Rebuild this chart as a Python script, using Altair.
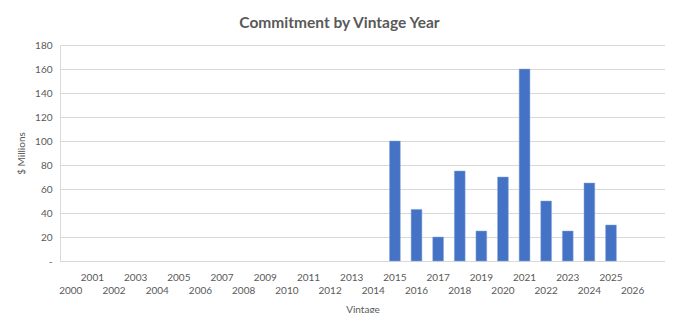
import altair as alt
import pandas as pd

categories = [str(y) for y in range(2000, 2028)]
bar_years = ["2015", "2016", "2017", "2018", "2019", "2020", "2021", "2022", "2023", "2024", "2025"]
bar_values = [100, 43, 20, 75, 25, 70, 160, 50, 25, 65, 30]
y_ticks = [0, 20, 40, 60, 80, 100, 120, 140, 160, 180]

df = pd.DataFrame({"Vintage": bar_years, "Commitment": bar_values})

TEXT = "#595959"
GRID = "#D9D9D9"
FONT = "Lato"

bars = alt.Chart(df).mark_bar(color="#4472C4", stroke="#8FAADC", strokeWidth=0.5).encode(
    x=alt.X(
        "Vintage:N",
        scale=alt.Scale(domain=categories, paddingInner=0.5, paddingOuter=0.25),
        axis=alt.Axis(
            title="Vintage",
            labelAngle=0,
            labelExpr="datum.value == '2027' ? '' : (toNumber(datum.value) % 2 == 1 ? datum.value : ['', datum.value])",
            labelBaseline="top",
            labelPadding=11,
            labelLineHeight=13,
            ticks=False,
            domainColor=GRID,
            titlePadding=9,
        ),
    ),
    y=alt.Y(
        "Commitment:Q",
        scale=alt.Scale(domain=[0, 180], nice=False),
        axis=alt.Axis(
            title="$ Millions",
            values=y_ticks,
            labelExpr="datum.value == 0 ? '-' : datum.label",
            ticks=False,
            labelPadding=8,
            domain=True,
            domainColor=GRID,
            gridColor=GRID,
            titleX=-39,
            titleY=108,
            titleAngle=-90,
            titleAlign="center",
            titleBaseline="middle",
        ),
    ),
)

chart = bars.properties(
    width=605,
    height=216,
    title=alt.TitleParams(
        "Commitment by Vintage Year",
        font=FONT,
        fontSize=15.5,
        fontWeight="bold",
        color=TEXT,
        baseline="alphabetic",
        offset=17,
        dy=20,
        dx=-23,
    ),
    autosize=alt.AutoSizeParams(type="none"),
    padding={"left": 52, "top": 37, "right": 0, "bottom": 52},
).configure_view(stroke=None).configure_axis(
    labelFont=FONT,
    labelFontSize=10,
    labelColor=TEXT,
    titleFont=FONT,
    titleFontSize=10,
    titleFontWeight="normal",
    titleColor=TEXT,
)

chart.save("out.html", embed_options={"renderer": "svg", "actions": False})
